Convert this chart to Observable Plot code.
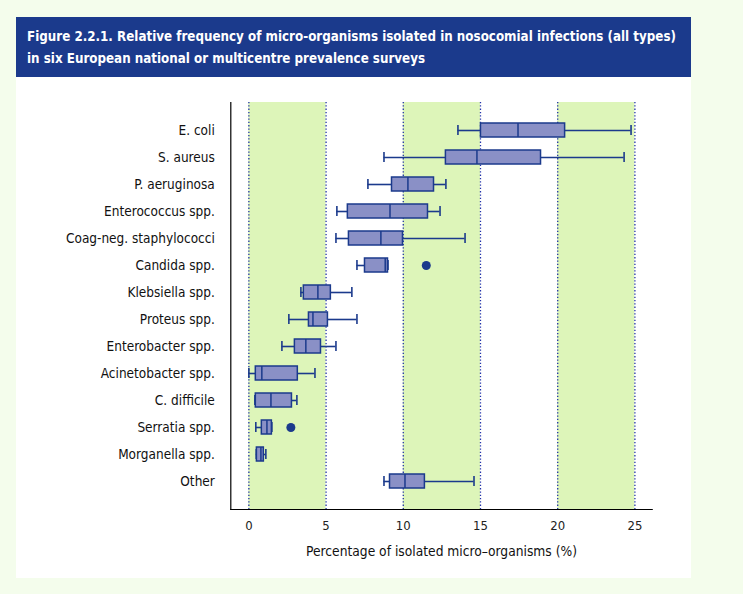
<!DOCTYPE html>
<html>
<head>
<meta charset="utf-8">
<script src="https://cdn.jsdelivr.net/npm/d3@7"></script>
<script src="https://cdn.jsdelivr.net/npm/@observablehq/plot@0.6"></script>
<style>
  html, body { margin: 0; padding: 0; background: #f4fdec; width: 743px; height: 594px; overflow: hidden; }
  #panel { position: absolute; left: 16px; top: 17px; width: 675px; height: 561px; background: #ffffff; }
  #banner { position: absolute; left: 0; top: 0; width: 675px; height: 60px; background: #1b3a8c; box-sizing: border-box; padding: 8px 11px 0 11px;
    color: #ffffff; font-family: "DejaVu Sans Condensed", sans-serif; font-weight: bold; font-size: 14.5px; line-height: 22px; overflow: hidden; }
  #banner span { display: inline-block; white-space: nowrap; transform-origin: 0 50%; }
  #chart { position: absolute; left: 0; top: 60px; }
</style>
</head>
<body>
<div id="panel">
  <div id="banner"><span id="t1">Figure 2.2.1. Relative frequency of micro-organisms isolated in nosocomial infections (all types)</span><br><span id="t2">in six European national or multicentre prevalence surveys</span></div>
  <div id="chart"></div>
</div>
<script>
const names = ["E. coli", "S. aureus", "P. aeruginosa", "Enterococcus spp.", "Coag-neg. staphylococci", "Candida spp.",
  "Klebsiella spp.", "Proteus spp.", "Enterobacter spp.", "Acinetobacter spp.", "C. difficile", "Serratia spp.",
  "Morganella spp.", "Other"];
const mins    = [13.54, 8.75, 7.71, 5.70, 5.64, 7.00, 3.37, 2.59, 2.14, 0.00, 0.39, 0.45, 0.48, 8.75];
const q1s     = [15.03, 12.76, 9.27, 6.41, 6.48, 7.52, 3.56, 3.89, 2.98, 0.45, 0.45, 0.84, 0.52, 9.14];
const medians = [17.43, 14.77, 10.30, 9.14, 8.55, 8.83, 4.47, 4.15, 3.69, 0.84, 1.43, 1.17, 0.78, 10.11];
const q3s     = [20.48, 18.92, 11.99, 11.60, 9.98, 9.01, 5.31, 5.12, 4.67, 3.17, 2.79, 1.49, 0.97, 11.40];
const maxs    = [24.75, 24.30, 12.76, 12.38, 14.00, 9.01, 6.67, 7.00, 5.64, 4.28, 3.11, 1.49, 1.10, 14.58];
const outlierNames  = ["Candida spp.", "Serratia spp."];
const outlierValues = [11.49, 2.72];
const xTicks = [0, 5, 10, 15, 20, 25];
const bands = [[0, 5], [10, 15], [20, 25]];
const xLabel = "Percentage of isolated micro–organisms (%)";

// Fit the title's first line to the reference width
const t1 = document.getElementById("t1"), t2 = document.getElementById("t2");
const s = 649 / t1.getBoundingClientRect().width;
t1.style.transform = `scaleX(${s})`;
t2.style.transform = `scaleX(${s})`;

const rows = names.map((n, i) => ({name: n, min: mins[i], q1: q1s[i], med: medians[i], q3: q3s[i], max: maxs[i]}));
const outliers = outlierNames.map((n, i) => ({name: n, value: outlierValues[i]}));
const bandRows = bands.map(([a, b]) => ({x1: a, x2: b}));

const dark = "#1b3a8c";
const font = "'DejaVu Sans Condensed', sans-serif";

const chart = Plot.plot({
  width: 675,
  height: 501,
  marginLeft: 214.3,
  marginRight: 39.3,
  marginTop: 25,
  marginBottom: 69,
  style: {fontFamily: font, fontSize: "13.5px", color: "#111", background: "transparent", overflow: "visible"},
  x: {domain: [-1.17, 26.12], ticks: xTicks, label: null},
  y: {domain: names, paddingInner: 0.484, paddingOuter: 0.74, label: null},
  marks: [
    Plot.rectX(bandRows, {x1: "x1", x2: "x2", fill: "#ddf5b9"}),
    Plot.ruleX(xTicks, {stroke: "#2233aa", strokeWidth: 1.3, strokeDasharray: "1.3,2"}),
    Plot.ruleY(rows, {y: "name", x1: "min", x2: "q1", stroke: dark, strokeWidth: 1.6}),
    Plot.ruleY(rows, {y: "name", x1: "q3", x2: "max", stroke: dark, strokeWidth: 1.6}),
    Plot.tickX(rows, {y: "name", x: "min", stroke: dark, strokeWidth: 1.6, insetTop: 2, insetBottom: 2}),
    Plot.tickX(rows, {y: "name", x: "max", stroke: dark, strokeWidth: 1.6, insetTop: 2, insetBottom: 2}),
    Plot.barX(rows, {y: "name", x1: "q1", x2: "q3", fill: "#8a90c6", stroke: dark, strokeWidth: 1.5}),
    Plot.tickX(rows, {y: "name", x: "med", stroke: dark, strokeWidth: 1.5}),
    Plot.dot(outliers, {y: "name", x: "value", r: 4.5, fill: dark, stroke: "none"}),
    Plot.frame({anchor: "left", stroke: "#000", strokeWidth: 1.2}),
    Plot.frame({anchor: "bottom", stroke: "#000", strokeWidth: 1.2}),
    Plot.axisX(xTicks, {tickSize: 0, tickPadding: 11, fontSize: 13, fill: "#222", label: null}),
    Plot.axisY({tickSize: 0, tickPadding: 16, fontSize: 13.5, fill: "#111", label: null}),
    Plot.text([xLabel], {frameAnchor: "bottom", dy: 46, fontSize: 13.7, fill: "#111"})
  ]
});
document.getElementById("chart").appendChild(chart);
</script>
</body>
</html>
